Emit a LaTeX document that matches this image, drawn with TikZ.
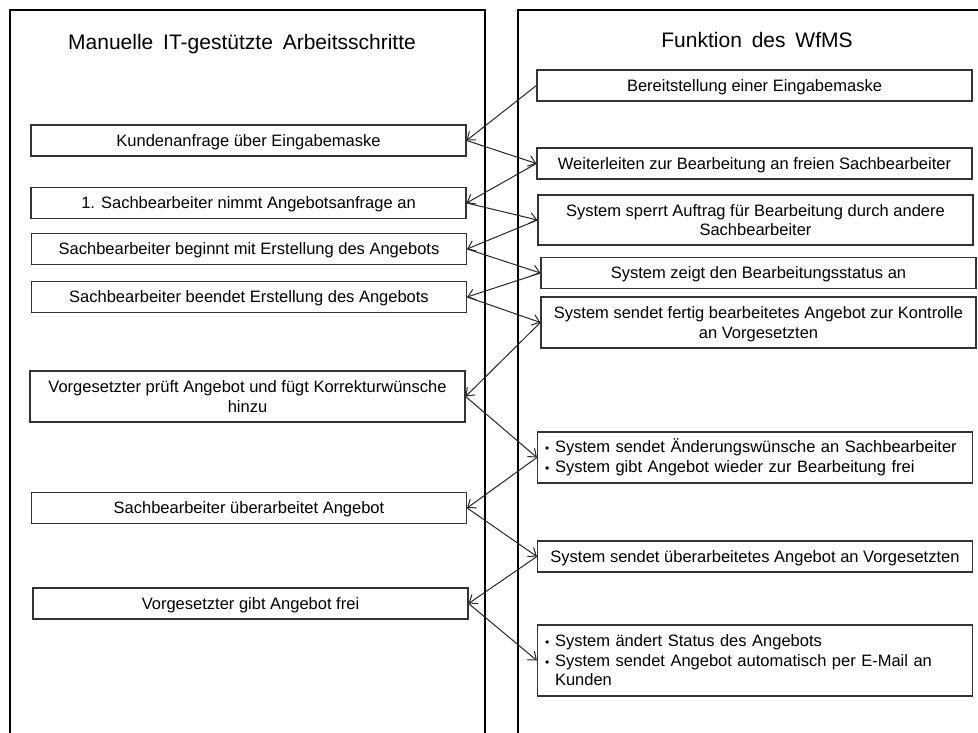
\documentclass[tikz,border=0pt]{standalone}
\usepackage{fontspec}
\setmainfont{Liberation Sans}
\usetikzlibrary{arrows.meta}
\newcommand{\blt}{\makebox[10pt][l]{\fontsize{12}{12}\selectfont •}}

\begin{document}
\begin{tikzpicture}[x=1pt,y=-1pt]
\tikzstyle{every node}+=[inner sep=0pt]
\tikzstyle{panel}=[black, line width=2.2pt]
\tikzstyle{stepbox}=[draw=black!80, line width=1.2pt, minimum width=435pt, minimum height=31pt, text depth=0pt, font=\fontsize{16.5}{19.5}\selectfont, align=center]
\tikzstyle{listbox}=[stepbox, text depth=, text width=420pt, align=left]
\tikzstyle{titel}=[font=\fontsize{21}{24}\selectfont]
\tikzstyle{pfeil}=[black!85, line width=1pt, -{Straight Barb[length=7pt,width=11pt]}]
\clip (0,0) rectangle (978,733);
% spalten
\draw [panel] (10,745) |- (485,10) -- (485,745);
\draw [panel] (518,745) |- (990,10);
\node [titel] (titelL) at (242,44) {Manuelle\hspace{4pt} IT-gestützte\hspace{4pt} Arbeitsschritte};
\node [titel] (titelR) at (757,40) {Funktion\hspace{4pt} des\hspace{4pt} WfMS};
% manuelle arbeitsschritte
\node [stepbox] (k1) at (248.5,140.5) {Kundenanfrage über Eingabemaske};
\node [stepbox] (k2) at (248.5,203) {1. Sachbearbeiter nimmt Angebotsanfrage an};
\node [stepbox] (k3) at (249,249) {Sachbearbeiter beginnt mit Erstellung des Angebots};
\node [stepbox] (k4) at (249,297) {Sachbearbeiter beendet Erstellung des Angebots};
\node [stepbox, minimum height=51pt] (k5) at (247.5,396.5) {Vorgesetzter prüft Angebot und fügt Korrekturwünsche\\hinzu};
\node [stepbox] (k6) at (249,508) {Sachbearbeiter überarbeitet Angebot};
\node [stepbox] (k7) at (250.5,603.5) {Vorgesetzter gibt Angebot frei};
% funktionen des wfms
\node [stepbox] (r1) at (754.5,85.5) {Bereitstellung einer Eingabemaske};
\node [stepbox] (r2) at (754.5,163.5) {Weiterleiten zur Bearbeitung an freien Sachbearbeiter};
\node [stepbox, minimum height=50pt] (r3) at (755.5,220) {System sperrt Auftrag für Bearbeitung durch andere\\Sachbearbeiter};
\node [stepbox] (r4) at (758.5,273) {System zeigt den Bearbeitungsstatus an};
\node [stepbox, minimum height=51pt] (r5) at (758.5,322.5) {System sendet fertig bearbeitetes Angebot zur Kontrolle\\an Vorgesetzten};
\node [listbox, minimum height=51pt] (r6) at (755,457.5) {\blt System sendet Änderungswünsche an Sachbearbeiter\\\blt System gibt Angebot wieder zur Bearbeitung frei};
\node [stepbox] (r7) at (755,556.5) {System sendet überarbeitetes Angebot an Vorgesetzten};
\node [listbox, minimum height=71pt] (r8) at (755,660.5) {\blt System ändert Status des Angebots\\\blt System sendet Angebot automatisch per E-Mail an\\\hspace*{10pt}Kunden};
% pfeile
\draw [pfeil] (r1.west) -- (k1.east);
\draw [pfeil] (k1.east) -- (r2.west);
\draw [pfeil] (r2.west) -- (k2.east);
\draw [pfeil] (k2.east) -- (r3.west);
\draw [pfeil] (r3.west) -- (k3.east);
\draw [pfeil] (k3.east) -- (r4.west);
\draw [pfeil] (r4.west) -- (k4.east);
\draw [pfeil] (k4.east) -- (r5.west);
\draw [pfeil] (r5.west) -- (k5.east);
\draw [pfeil] (k5.east) -- (r6.west);
\draw [pfeil] (r6.west) -- (k6.east);
\draw [pfeil] (k6.east) -- (r7.west);
\draw [pfeil] (r7.west) -- (k7.east);
\draw [pfeil] (k7.east) -- (r8.west);
\end{tikzpicture}
\end{document}
